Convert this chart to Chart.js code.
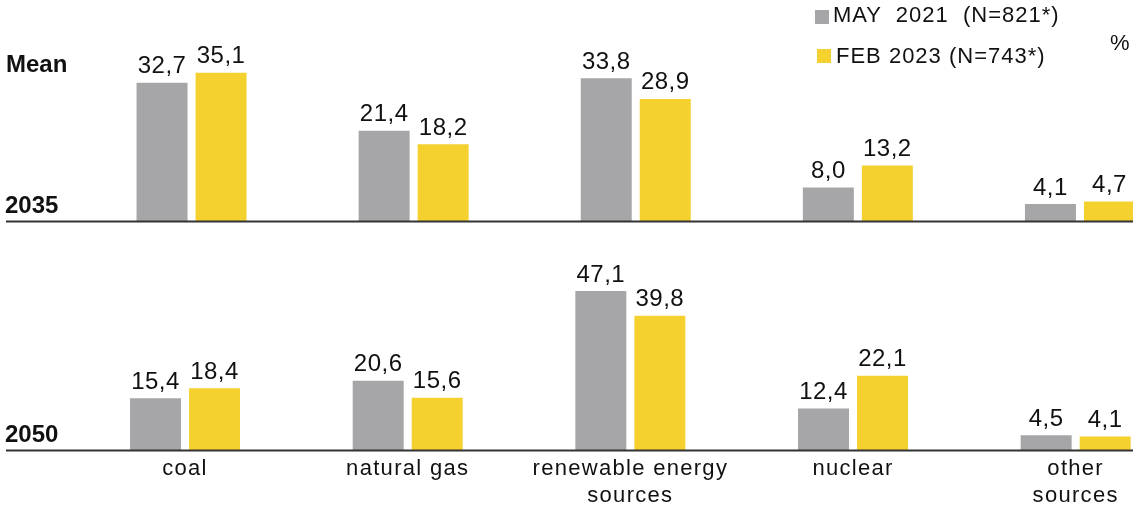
<!DOCTYPE html>
<html>
<head>
<meta charset="utf-8">
<script src="https://cdn.jsdelivr.net/npm/chart.js@4/dist/chart.umd.min.js"></script>
<style>
  html, body { margin: 0; padding: 0; background: #fff; overflow: hidden; }
  #wrap { position: relative; width: 1133px; height: 506px; overflow: hidden; background: #fff; }
  canvas { position: absolute; left: 0; }
  .txt { position: absolute; font-family: 'Liberation Sans', Arial, sans-serif; color: #111; white-space: pre; line-height: 1; }
  .bold { font-weight: bold; font-size: 24px; }
  .leg { font-size: 22px; letter-spacing: 1px; }
  .sw { position: absolute; width: 14px; height: 14px; }
</style>
</head>
<body>
<div id="wrap">
  <canvas id="top" width="1191" height="240" style="top:0"></canvas>
  <canvas id="bottom" width="1187" height="266" style="top:240px"></canvas>
  <div class="txt bold" id="meanLbl" style="left:6px; top:52px;"></div>
  <div class="txt bold" id="p1" style="left:5px; top:193px;"></div>
  <div class="txt bold" id="p2" style="left:5px; top:422px;"></div>
  <div class="sw" id="sw1" style="left:815px; top:10px;"></div>
  <div class="txt leg" id="l1" style="left:833px; top:4px;"></div>
  <div class="sw" id="sw2" style="left:817px; top:49px;"></div>
  <div class="txt leg" id="l2" style="left:836px; top:45px;"></div>
  <div class="txt" id="pct" style="left:1110px; top:32px; font-size:22px;"></div>
</div>
<script>
// ---- data ----
const categories = ['coal', 'natural gas', 'renewable energy sources', 'nuclear', 'other sources'];
const tickLabels = [['coal'], ['natural gas'], ['renewable energy', 'sources'], ['nuclear'], ['other', 'sources']];
const seriesNames = ['MAY  2021  (N=821*)', 'FEB 2023 (N=743*)'];
const panelLabels = ['2035', '2050'];
const may2021_2035 = [32.7, 21.4, 33.8, 8.0, 4.1];
const feb2023_2035 = [35.1, 18.2, 28.9, 13.2, 4.7];
const may2021_2050 = [15.4, 20.6, 47.1, 12.4, 4.5];
const feb2023_2050 = [18.4, 15.6, 39.8, 22.1, 4.1];
const titleText = 'Mean';
const unitText = '%';

// ---- styles ----
const GRAY = '#A6A6A8';
const YELLOW = '#F5D130';
const FONT = "'Liberation Sans', Arial, sans-serif";

document.getElementById('meanLbl').textContent = titleText;
document.getElementById('p1').textContent = panelLabels[0];
document.getElementById('p2').textContent = panelLabels[1];
document.getElementById('l1').textContent = seriesNames[0];
document.getElementById('l2').textContent = seriesNames[1];
document.getElementById('pct').textContent = unitText;
document.getElementById('sw1').style.background = GRAY;
document.getElementById('sw2').style.background = YELLOW;

const fmt = v => v.toFixed(1).replace('.', ',');

const spacingPlugin = {
  id: 'spacing',
  beforeDraw(chart) { try { chart.ctx.letterSpacing = '1.3px'; } catch (e) {} }
};

const valueAndBase = {
  id: 'valueAndBase',
  afterDatasetsDraw(chart) {
    const ctx = chart.ctx;
    ctx.save();
    const y0 = chart.scales.y.getPixelForValue(0);
    ctx.strokeStyle = '#333';
    ctx.lineWidth = 2;
    ctx.beginPath();
    ctx.moveTo(6, y0);
    ctx.lineTo(chart.width, y0);
    ctx.stroke();
    try { ctx.letterSpacing = '0.5px'; } catch (e) {}
    ctx.font = '24px ' + FONT;
    ctx.fillStyle = '#111';
    ctx.textAlign = 'center';
    ctx.textBaseline = 'alphabetic';
    chart.data.datasets.forEach((ds, di) => {
      const meta = chart.getDatasetMeta(di);
      meta.data.forEach((bar, i) => {
        ctx.fillText(fmt(ds.data[i]), bar.x, bar.y - 9.5);
      });
    });
    ctx.restore();
  }
};

function makeChart(id, d1, d2, showX, pad, yMax, axisH, catPct) {
  return new Chart(document.getElementById(id), {
    type: 'bar',
    data: {
      labels: tickLabels,
      datasets: [
        { label: seriesNames[0], data: d1, backgroundColor: GRAY, borderWidth: 0,
          categoryPercentage: catPct, barPercentage: 0.864 },
        { label: seriesNames[1], data: d2, backgroundColor: YELLOW, borderWidth: 0,
          categoryPercentage: catPct, barPercentage: 0.864 }
      ]
    },
    options: {
      responsive: false,
      animation: false,
      events: [],
      layout: { padding: pad },
      plugins: { legend: { display: false }, tooltip: { enabled: false }, title: { display: false } },
      scales: {
        x: {
          display: showX,
          grid: { display: false, drawTicks: false },
          border: { display: false },
          ticks: { font: { size: 22, family: FONT, lineHeight: 1.23 }, color: '#111', padding: 5, maxRotation: 0, autoSkip: false },
          afterFit: (s) => { if (axisH) s.height = axisH; }
        },
        y: { display: false, min: 0, max: yMax }
      }
    },
    plugins: [spacingPlugin, valueAndBase]
  });
}

makeChart('top', may2021_2035, feb2023_2035, false, { left: 80.5, right: 0, top: 9.5, bottom: 18.5 }, 50, null, 0.5315);
makeChart('bottom', may2021_2050, feb2023_2050, true, { left: 73.7, right: 0, top: 7.4, bottom: 0 }, 60, 55.5, 0.530);
</script>
</body>
</html>
